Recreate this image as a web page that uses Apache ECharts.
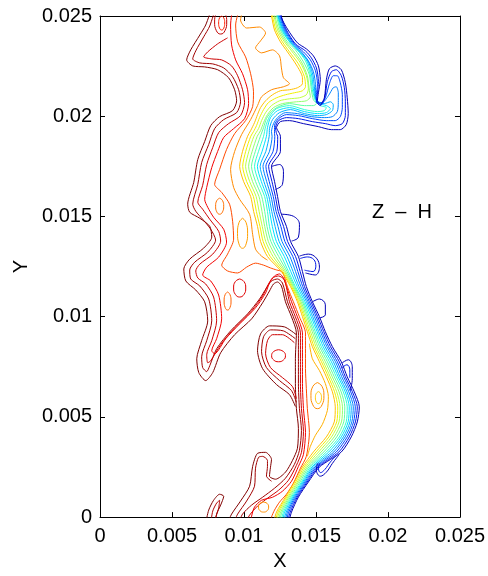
<!DOCTYPE html>
<html>
<head>
<meta charset="utf-8">
<script src="https://cdn.jsdelivr.net/npm/echarts@6/dist/echarts.min.js"></script>
<style>html,body{margin:0;padding:0;background:#fff}#c{width:488px;height:576px}</style>
</head>
<body>
<div id="c"></div>
<script>
// ---- Data (positions in millimetres, converted to metres for the axes) ----
const xTickLabels = ['0','0.005','0.01','0.015','0.02','0.025'];
const yTickLabels = ['0','0.005','0.01','0.015','0.02','0.025'];
const panelLabel = 'Z  \u2013  H';

// Front band (yellow -> dark blue): shared rows of y, with x for each of the 12 levels
const bandColors = ['#ffc000','#f0f000','#c0ff40','#90ff70','#60ffa0','#30ffd0','#00e0ff','#00b0ff','#0080ff','#0048ff','#0018e8','#0000b8'];
const bandY = [19.0,18.25,17.5,16.75,16.0,15.25,14.5,13.75,13.0,12.25,11.5,10.75,10.0,9.25,8.5,7.75,7.0,6.25,5.5,4.75,4.0,3.25,2.5,1.75,1.0,0.25,-0.5];
const bandRows = [
 [10.25,10.47,10.69,10.92,11.14,11.36,11.56,11.75,11.95,12.14,12.34,12.53],
 [9.90,10.12,10.34,10.57,10.79,11.01,11.26,11.52,11.77,12.02,12.28,12.53],
 [9.70,9.91,10.11,10.32,10.52,10.73,10.93,11.12,11.32,11.52,11.71,11.91],
 [9.97,10.18,10.39,10.59,10.80,11.01,11.20,11.38,11.57,11.75,11.94,12.12],
 [10.46,10.65,10.84,11.04,11.23,11.43,11.58,11.73,11.88,12.03,12.18,12.33],
 [10.67,10.86,11.05,11.25,11.44,11.63,11.78,11.93,12.08,12.23,12.38,12.53],
 [10.94,11.11,11.27,11.44,11.60,11.77,11.97,12.16,12.36,12.56,12.75,12.95],
 [11.15,11.33,11.51,11.69,11.87,12.05,12.25,12.44,12.64,12.84,13.03,13.23],
 [11.63,11.82,12.02,12.21,12.41,12.60,12.80,12.99,13.19,13.39,13.58,13.78],
 [12.60,12.70,12.80,12.89,12.99,13.09,13.25,13.41,13.58,13.74,13.90,14.06],
 [13.23,13.30,13.37,13.43,13.50,13.57,13.70,13.82,13.95,14.08,14.20,14.33],
 [13.71,13.79,13.88,13.96,14.05,14.13,14.23,14.34,14.44,14.54,14.65,14.75],
 [14.06,14.16,14.25,14.35,14.44,14.54,14.66,14.77,14.89,15.01,15.12,15.24],
 [14.40,14.51,14.62,14.74,14.85,14.96,15.08,15.19,15.31,15.42,15.54,15.65],
 [14.75,14.87,15.00,15.12,15.25,15.37,15.50,15.63,15.76,15.88,16.01,16.14],
 [15.24,15.38,15.51,15.65,15.79,15.93,16.07,16.21,16.35,16.48,16.62,16.76],
 [15.72,15.86,15.99,16.13,16.27,16.41,16.54,16.66,16.79,16.92,17.04,17.17],
 [16.14,16.29,16.44,16.60,16.75,16.90,17.03,17.15,17.28,17.41,17.53,17.66],
 [16.34,16.51,16.67,16.84,17.00,17.17,17.31,17.45,17.59,17.73,17.87,18.01],
 [16.27,16.44,16.60,16.77,16.93,17.10,17.23,17.36,17.49,17.61,17.74,17.87],
 [15.72,15.90,16.08,16.26,16.44,16.62,16.76,16.90,17.03,17.17,17.31,17.45],
 [14.82,15.00,15.18,15.36,15.54,15.72,15.89,16.07,16.24,16.41,16.59,16.76],
 [14.06,14.17,14.28,14.39,14.50,14.61,14.72,14.82,14.93,15.03,15.14,15.24],
 [13.50,13.60,13.70,13.79,13.89,13.99,14.07,14.15,14.23,14.31,14.39,14.47],
 [12.88,12.96,13.05,13.13,13.22,13.30,13.38,13.46,13.54,13.62,13.70,13.78],
 [12.26,12.36,12.45,12.55,12.64,12.74,12.83,12.93,13.02,13.11,13.21,13.30],
 [11.98,12.08,12.18,12.27,12.37,12.47,12.56,12.65,12.75,12.84,12.93,13.02]
];
// Upper part of each band level (the tongue near the top)
const bandTop = [
 [[11.77,25.40],[11.91,25.00],[12.12,24.30],[12.53,23.71],[13.02,23.21],[13.64,22.56],[14.06,21.92],[14.06,21.62],[13.71,21.42],[13.16,21.32],[12.53,21.27],[11.98,21.07],[11.50,20.77],[11.15,20.43],[10.94,20.08],[10.73,19.68],[10.46,19.28]],
 [[11.87,25.40],[11.98,25.00],[12.22,24.30],[12.67,23.71],[13.16,23.21],[13.78,22.61],[14.20,21.97],[14.27,21.47],[14.06,21.27],[13.50,21.17],[12.88,21.07],[12.26,20.92],[11.70,20.68],[11.36,20.33],[11.08,19.93],[10.87,19.53],[10.66,19.23]],
 [[11.98,25.40],[12.08,25.00],[12.33,24.30],[12.81,23.71],[13.30,23.26],[13.92,22.66],[14.33,22.02],[14.47,21.37],[14.33,21.07],[13.85,20.92],[13.16,20.87],[12.47,20.77],[11.91,20.53],[11.50,20.18],[11.22,19.78],[11.01,19.38]],
 [[12.08,25.40],[12.15,25.00],[12.43,24.30],[12.91,23.71],[13.43,23.26],[13.99,22.71],[14.40,22.02],[14.54,21.27],[14.61,20.97],[14.33,20.77],[13.64,20.72],[12.67,20.63],[12.05,20.43],[11.63,20.08],[11.36,19.68],[11.15,19.28]],
 [[12.19,25.40],[12.26,25.00],[12.53,24.30],[13.02,23.71],[13.57,23.31],[14.13,22.71],[14.54,22.07],[14.68,21.32],[14.82,20.82],[15.03,20.63],[14.82,20.53],[14.20,20.53],[13.16,20.63],[12.40,20.48],[11.91,20.23],[11.56,19.88],[11.36,19.43]],
 [[12.26,25.40],[12.33,25.00],[12.60,24.30],[13.16,23.71],[13.71,23.31],[14.27,22.76],[14.61,22.07],[14.75,21.32],[14.96,20.77],[15.30,20.53],[15.72,20.43],[15.58,20.28],[15.10,20.23],[14.20,20.33],[13.16,20.53],[12.26,20.38],[11.77,19.98],[11.50,19.48]],
 [[12.29,25.40],[12.36,25.00],[12.67,24.30],[13.23,23.66],[13.78,23.26],[14.33,22.81],[14.68,22.12],[14.82,21.37],[14.96,20.87],[15.24,20.63],[15.72,20.53],[16.00,20.38],[15.72,20.18],[15.10,20.13],[14.20,20.23],[13.16,20.43],[12.33,20.28],[11.84,19.93],[11.63,19.43]],
 [[12.33,25.40],[12.40,25.00],[12.74,24.30],[13.30,23.66],[13.85,23.26],[14.40,22.81],[14.75,22.17],[14.89,21.47],[14.96,20.97],[15.17,20.72],[15.58,20.63],[16.00,20.72],[16.20,20.58],[16.14,20.28],[15.72,20.08],[15.10,20.03],[14.20,20.13],[13.23,20.33],[12.47,20.18],[11.98,19.83],[11.77,19.38]],
 [[12.40,25.40],[12.47,25.00],[12.81,24.30],[13.37,23.66],[13.99,23.21],[14.47,22.76],[14.82,22.22],[14.96,21.57],[14.96,21.02],[15.10,20.72],[15.44,20.68],[15.86,21.02],[16.20,21.42],[16.41,21.47],[16.55,21.17],[16.55,20.68],[16.48,20.23],[16.14,19.98],[15.58,19.93],[14.68,19.98],[13.71,20.13],[12.88,20.18],[12.33,19.93],[12.05,19.63],[11.91,19.23]],
 [[12.47,25.40],[12.53,25.00],[12.88,24.30],[13.50,23.61],[14.13,23.21],[14.61,22.81],[14.96,22.27],[15.10,21.62],[15.03,21.07],[15.03,20.72],[15.30,20.63],[15.65,20.92],[15.93,21.62],[16.20,22.02],[16.48,22.02],[16.69,21.67],[16.83,21.07],[16.83,20.43],[16.69,19.98],[16.34,19.78],[15.72,19.78],[14.75,19.88],[13.78,20.03],[12.95,20.08],[12.40,19.88],[12.12,19.53],[12.12,19.13]],
 [[12.53,25.40],[12.57,25.00],[12.95,24.30],[13.57,23.61],[14.27,23.26],[14.68,22.91],[15.03,22.41],[15.17,21.72],[15.10,21.12],[15.03,20.72],[15.30,20.53],[15.58,20.82],[15.79,21.72],[16.07,22.22],[16.41,22.32],[16.76,22.02],[16.97,21.42],[17.04,20.72],[17.04,20.03],[16.83,19.63],[16.34,19.53],[15.65,19.63],[14.75,19.73],[13.78,19.88],[12.95,19.93],[12.40,19.78],[12.19,19.43],[12.26,19.13]],
 [[12.60,25.40],[12.60,25.00],[13.02,24.35],[13.71,23.66],[14.33,23.36],[14.82,23.01],[15.17,22.51],[15.30,21.82],[15.17,21.17],[15.10,20.77],[15.30,20.58],[15.58,20.92],[15.72,21.82],[15.93,22.37],[16.34,22.51],[16.76,22.32],[17.04,21.67],[17.17,20.92],[17.24,20.13],[17.10,19.58],[16.69,19.33],[16.07,19.33],[15.17,19.48],[14.13,19.63],[13.16,19.78],[12.53,19.73],[12.26,19.43],[12.47,19.13]]
];
// Blue fingers on the outer edge of the front
const finger2 = [[11.91,17.49],[12.47,17.59],[12.74,17.25],[12.67,16.60],[12.19,16.35]];
const finger3 = [[12.60,15.11],[13.43,15.01],[13.85,14.61],[13.78,13.97],[13.30,13.77]];
const finger4 = [[13.85,13.02],[14.47,13.12],[15.03,12.92],[15.24,12.47],[14.96,12.08],[14.27,12.18]];
const finger4b = [[13.90,12.90],[14.40,12.98],[14.85,12.85],[14.99,12.52],[14.80,12.25],[14.20,12.32]];
const finger5 = [[14.75,10.74],[15.24,10.88],[15.65,10.59],[15.65,10.09],[15.24,9.94]];
const finger6 = [[16.83,7.70],[17.24,7.85],[17.52,7.50],[17.52,6.91],[17.38,6.31]];
const finger6b = [[16.80,7.45],[17.15,7.60],[17.35,7.35],[17.35,6.95]];
const finger7 = [[16.62,3.13],[16.14,2.68],[15.72,2.24],[15.30,2.04],[15.03,2.34],[15.10,2.68]];
const finger7b = [[16.45,3.10],[16.00,2.75],[15.62,2.38],[15.32,2.22],[15.17,2.42],[15.24,2.70]];

// Red / orange levels
const darkRed1 = [[7.76,25.40],[7.34,24.55],[6.93,24.05],[6.30,23.31],[6.02,22.81],[6.44,22.51],[7.27,22.46],[8.17,22.32],[8.93,21.92],[9.35,21.32],[9.49,20.77],[9.21,20.28],[8.31,19.98],[7.69,19.53],[7.27,18.74],[6.79,17.84],[6.51,16.70],[6.09,15.61],[6.23,15.21],[6.93,14.91],[7.62,14.51],[7.76,13.97],[7.20,13.42],[6.23,12.87],[5.82,12.38],[5.96,11.78],[6.65,11.33],[7.27,10.74],[7.48,9.79],[7.06,8.80],[6.72,7.90],[6.86,7.21],[7.34,6.81],[7.83,7.21],[8.38,8.20],[9.35,9.10],[10.53,9.89],[11.29,10.69],[11.77,11.28],[12.05,11.63],[12.33,11.73],[12.60,11.53],[12.88,10.74],[13.30,9.99],[13.64,9.19],[13.57,7.90],[13.57,6.66],[13.64,5.42],[13.78,4.42],[13.71,3.43],[13.37,2.83],[12.88,2.24],[12.19,1.89],[11.77,2.04],[11.84,2.49],[11.91,2.88],[11.50,3.23],[10.94,3.18],[10.60,2.53],[10.39,1.54],[9.76,0.80],[9.14,0.15],[8.86,-0.30]];
const darkRed2 = [[8.03,25.40],[7.62,24.50],[7.20,23.96],[6.65,23.26],[6.44,22.86],[6.93,22.66],[7.83,22.61],[8.59,22.41],[9.21,21.97],[9.63,21.32],[9.76,20.72],[9.49,20.18],[8.59,19.83],[7.96,19.38],[7.55,18.59],[7.06,17.69],[6.79,16.60],[6.44,15.61],[6.65,15.26],[7.13,14.86],[7.69,14.36],[8.03,13.82],[7.48,13.22],[6.58,12.72],[6.23,12.33],[6.30,11.88],[6.93,11.53],[7.55,10.88],[7.76,9.79],[7.41,8.80],[7.06,8.00],[7.13,7.46],[7.41,7.26],[7.62,7.55],[8.10,8.40],[9.07,9.29],[10.25,10.14],[11.08,10.88],[11.56,11.43],[11.91,11.78],[12.33,11.88],[12.67,11.68],[13.02,10.74],[13.43,9.99],[13.78,9.19],[13.78,7.90],[13.78,6.66],[13.85,5.42],[13.99,4.32],[13.85,3.33],[13.50,2.63],[12.88,1.94],[12.12,1.44],[11.29,0.99],[10.53,0.60],[9.90,0.15],[9.63,-0.30]];
const red3 = [[8.86,23.91],[8.17,23.61],[7.48,23.21],[7.20,22.96],[7.76,22.86],[8.45,22.81],[9.14,22.51],[9.56,22.02],[9.90,21.32],[10.04,20.68],[9.76,20.03],[8.93,19.63],[8.24,19.18],[7.83,18.44],[7.41,17.59],[7.13,16.55],[6.79,15.71],[7.13,15.36],[7.62,14.86],[8.24,14.26],[8.38,13.77],[7.83,13.12],[6.93,12.62],[6.65,12.28],[6.79,11.93],[7.34,11.63],[7.89,10.98],[8.10,9.79],[7.76,8.80],[7.41,8.10],[7.48,7.70],[7.69,7.80],[8.38,8.60],[9.35,9.44],[10.53,10.29],[11.29,11.03],[11.63,11.53],[11.98,11.93],[12.40,12.03],[12.81,11.83],[13.16,10.74],[13.57,9.99],[13.92,9.19],[13.92,7.90],[13.92,6.66],[13.99,5.42],[14.13,4.27],[13.99,3.23],[13.64,2.58],[13.09,1.84],[12.40,1.34],[11.63,0.94],[10.94,0.55],[10.39,0.10],[10.11,-0.30]];
const red4 = [[9.21,25.40],[9.07,24.55],[9.14,23.56],[9.42,22.81],[9.90,22.12],[10.25,21.32],[10.32,20.63],[10.04,19.88],[9.28,19.38],[8.59,18.94],[8.17,18.24],[7.76,17.44],[7.41,16.45],[7.27,15.85],[7.48,15.46],[7.89,14.96],[8.59,14.36],[8.79,13.72],[8.24,12.97],[7.41,12.47],[7.13,12.08],[7.69,11.78],[8.24,11.08],[8.45,9.89],[8.10,8.90],[7.76,8.30],[7.96,8.15],[8.73,8.90],[9.70,9.64],[10.80,10.44],[11.50,11.18],[11.77,11.68],[12.12,12.03],[12.47,12.13],[12.74,11.93],[13.30,10.74],[13.71,9.99],[14.06,9.19],[14.06,7.90],[14.06,6.66],[14.13,5.42],[14.27,4.22],[14.13,3.13],[13.78,2.53],[13.30,1.79],[12.67,1.29],[11.98,0.99],[11.22,0.84],[10.73,0.50],[10.53,0.05],[10.46,-0.30]];
const orange1 = [[9.70,25.40],[9.42,24.55],[9.56,23.71],[10.11,22.96],[10.46,22.12],[10.66,21.22],[10.60,20.48],[10.11,19.78],[9.35,19.13],[8.79,18.34],[8.31,17.35],[7.96,16.60],[8.45,16.20],[9.00,15.61],[9.21,14.76],[9.28,13.87],[8.86,13.12],[8.45,12.57],[8.86,12.28],[9.56,12.18],[10.18,12.47],[10.80,12.67],[11.36,12.57],[11.84,12.43],[12.26,12.33],[12.67,12.23],[13.02,11.48],[13.43,10.74],[13.85,9.99],[14.27,9.19],[14.27,8.40],[14.27,7.41],[14.33,6.41],[14.40,5.42],[14.54,4.22],[14.33,3.03],[13.92,2.44],[13.43,1.69],[12.95,1.14],[12.47,0.75],[12.12,0.35],[11.91,0.00],[11.84,-0.30]];
const orange2 = [[9.97,25.40],[9.76,24.80],[10.18,24.40],[11.08,24.45],[11.50,24.15],[11.15,23.76],[10.80,23.41],[11.22,23.16],[11.98,23.31],[12.47,23.01],[12.60,22.41],[12.74,21.92],[13.16,21.62],[12.74,21.47],[11.91,21.32],[11.22,20.97],[10.94,20.53],[10.46,19.83],[9.83,19.08],[9.35,18.24],[9.07,17.35],[9.28,16.45],[9.70,15.85],[10.39,15.11],[10.60,14.11],[10.80,13.37],[11.22,13.02],[11.63,12.82]];
const orange3 = [[14.54,8.65],[14.75,7.90],[15.24,7.31],[15.65,6.66],[15.86,6.01],[15.79,5.32],[15.44,4.62],[14.96,4.08],[14.61,3.53],[14.40,3.03]];
const lobe1 = [[13.64,9.10],[12.81,9.49],[11.77,9.54],[11.15,9.14],[10.94,8.30],[11.29,7.41],[12.26,6.61],[13.16,6.11],[13.57,5.52]];
const lobe2 = [[13.57,8.90],[12.74,9.29],[11.84,9.34],[11.36,9.00],[11.22,8.25],[11.56,7.46],[12.47,6.81],[13.30,6.31],[13.64,5.72]];
const lobe3 = [[13.50,8.70],[12.67,9.10],[11.98,9.10],[11.63,8.80],[11.50,8.15],[11.84,7.46],[12.67,6.96],[13.37,6.51],[13.64,5.91]];
const hookInner = [[11.91,1.79],[11.56,2.04],[11.63,2.53],[11.63,2.83],[11.29,3.03],[11.01,2.98],[10.80,2.44],[10.73,1.54],[10.18,0.80],[9.56,0.15],[9.28,-0.30]];
const baseHookA = [[7.34,-0.30],[7.55,0.35],[7.89,0.84],[8.31,1.14],[8.59,1.04],[8.38,0.60],[8.10,0.15],[8.03,-0.30]];
const baseHookB = [[7.69,-0.30],[7.83,0.30],[8.10,0.70],[8.31,0.84],[8.24,0.45],[7.89,-0.30]];

// Closed islands
const islandTopOuter = [[8.38,25.30],[8.68,25.13],[8.80,24.70],[8.68,24.27],[8.38,24.10],[8.08,24.27],[7.96,24.70],[8.08,25.13],[8.38,25.30]];
const islandTopInner = [[8.45,25.00],[8.60,24.90],[8.66,24.65],[8.60,24.40],[8.45,24.30],[8.30,24.40],[8.24,24.65],[8.30,24.90],[8.45,25.00]];
const islandA = [[8.31,15.91],[8.51,15.79],[8.59,15.51],[8.51,15.23],[8.31,15.11],[8.11,15.23],[8.03,15.51],[8.11,15.79],[8.31,15.91]];
const islandB = [[9.90,14.91],[10.15,14.69],[10.25,14.16],[10.15,13.63],[9.90,13.41],[9.65,13.63],[9.55,14.16],[9.65,14.69],[9.90,14.91]];
const islandC = [[9.70,11.88],[10.00,11.75],[10.12,11.43],[10.00,11.11],[9.70,10.98],[9.40,11.11],[9.28,11.43],[9.40,11.75],[9.70,11.88]];
const islandD = [[8.86,11.23],[9.03,11.10],[9.10,10.78],[9.03,10.46],[8.86,10.33],[8.69,10.46],[8.62,10.78],[8.69,11.10],[8.86,11.23]];
const islandE = [[12.40,8.35],[12.74,8.26],[12.88,8.05],[12.74,7.84],[12.40,7.75],[12.06,7.84],[11.92,8.05],[12.06,8.26],[12.40,8.35]];
const islandF = [[15.10,6.71],[15.42,6.52],[15.55,6.06],[15.42,5.60],[15.10,5.41],[14.78,5.60],[14.65,6.06],[14.78,6.52],[15.10,6.71]];
const islandFi = [[15.17,6.26],[15.32,6.17],[15.38,5.96],[15.32,5.75],[15.17,5.66],[15.02,5.75],[14.96,5.96],[15.02,6.17],[15.17,6.26]];
const islandG = [[11.36,0.75],[11.61,0.68],[11.71,0.50],[11.61,0.32],[11.36,0.25],[11.11,0.32],[11.01,0.50],[11.11,0.68],[11.36,0.75]];

// ---- Build chart ----
const MM = 1e-3;
const FONT = "'Liberation Sans', Arial, Helvetica, sans-serif";
const toM = arr => arr.map(p => [p[0] * MM, p[1] * MM]);
function contour(data, color, smooth) {
  return { type: 'line', data: toM(data), showSymbol: false, symbol: 'none',
    smooth: smooth === undefined ? 0.25 : smooth, silent: true, animation: false,
    lineStyle: { color: color, width: 1 }, xAxisIndex: 0, yAxisIndex: 0 };
}
const series = [];
[[darkRed1,'#800000'],[darkRed2,'#a00000'],[red3,'#cc0000'],[red4,'#f20000'],
 [orange1,'#ff4a00'],[orange2,'#ff8a00'],[orange3,'#ffb000'],
 [lobe1,'#800000'],[lobe2,'#a00000'],[lobe3,'#cc0000'],[hookInner,'#a00000'],
 [baseHookA,'#800000'],[baseHookB,'#b00000']].forEach(([d,c]) => series.push(contour(d,c)));
[[islandTopOuter,'#c00000'],[islandTopInner,'#ff2000'],[islandA,'#ff7000'],[islandB,'#ffa000'],
 [islandC,'#e00000'],[islandD,'#ff6000'],[islandE,'#e00000'],[islandF,'#ff8c00'],
 [islandFi,'#ffc800'],[islandG,'#ff9000']].forEach(([d,c]) => series.push(contour(d,c,0.5)));
for (let k = 0; k < bandColors.length; k++) {
  const lower = bandY.map((y, i) => [bandRows[i][k], y]);
  series.push(contour(bandTop[k].concat(lower), bandColors[k]));
}
[[finger2,'#0000b8'],[finger3,'#0000b8'],[finger4,'#0000b8'],[finger4b,'#0018e8'],[finger5,'#0000b8'],
 [finger6,'#0000b8'],[finger6b,'#0018e8'],[finger7,'#0000b8'],[finger7b,'#0018e8']].forEach(([d,c]) => series.push(contour(d,c,0.4)));

const tickIdx = v => Math.round(v / 0.005);
const axisCommon = {
  type: 'value', min: 0, max: 0.025, interval: 0.005,
  axisLine: { show: true, onZero: false, lineStyle: { color: '#000', width: 1 } },
  axisTick: { show: true, inside: true, length: 5, lineStyle: { color: '#000', width: 1 } },
  splitLine: { show: false }
};
const chart = echarts.init(document.getElementById('c'), null, { renderer: 'canvas' });
chart.setOption({
  backgroundColor: '#fff',
  animation: false,
  grid: { left: 100, right: 27, top: 16, bottom: 57, containLabel: false },
  xAxis: [
    Object.assign({}, axisCommon, { position: 'bottom',
      axisLabel: { color: '#000', fontSize: 20, fontFamily: FONT, margin: 9, formatter: v => xTickLabels[tickIdx(v)] },
      name: 'X', nameLocation: 'middle', nameGap: 33, nameTextStyle: { color: '#000', fontSize: 20, fontFamily: FONT } }),
    Object.assign({}, axisCommon, { position: 'top', axisLabel: { show: false } })
  ],
  yAxis: [
    Object.assign({}, axisCommon, { position: 'left',
      axisLabel: { color: '#000', fontSize: 20, fontFamily: FONT, margin: 8, formatter: v => yTickLabels[tickIdx(v)] },
      name: 'Y', nameLocation: 'middle', nameGap: 68, nameTextStyle: { color: '#000', fontSize: 20, fontFamily: FONT } }),
    Object.assign({}, axisCommon, { position: 'right', axisLabel: { show: false } })
  ],
  graphic: [{ type: 'text', left: 372, top: 202, silent: true,
    style: { text: panelLabel, fontSize: 20, fontFamily: FONT, fill: '#000' } }],
  series: series
});
</script>
</body>
</html>
